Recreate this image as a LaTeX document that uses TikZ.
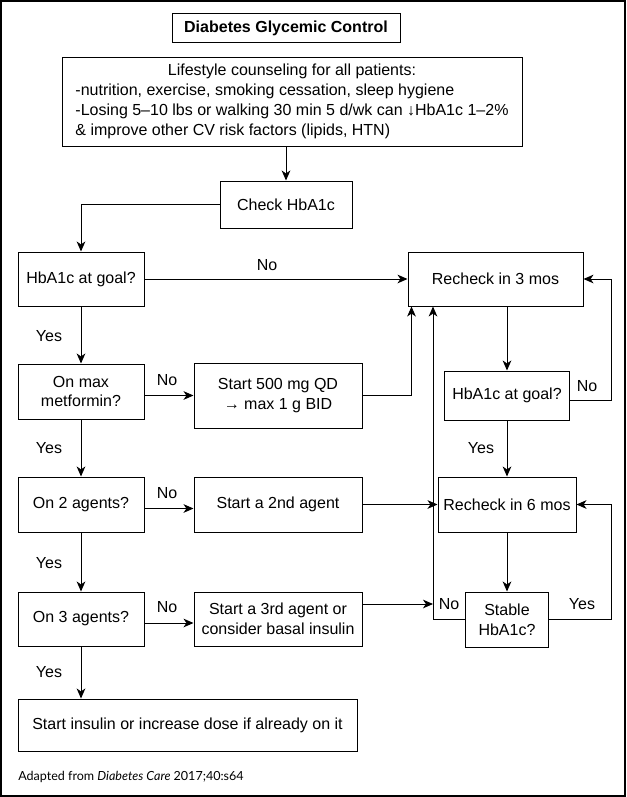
\documentclass[tikz,border=0pt]{standalone}
\usepackage{fontspec}
\setmainfont{Liberation Sans}
\newfontfamily\notefont{Lato}
\usepackage{tikz}
\usetikzlibrary{calc,arrows.meta,positioning}
\newcommand{\pxu}{0.75pt}

\begin{document}
\begin{tikzpicture}[x=0.75pt, y=-0.75pt,
    every node/.style={font=\fontsize{12}{14.8}\selectfont},
    box/.style={draw, line width=0.75pt, inner sep=2pt, align=center},
    lbl/.style={inner sep=0pt},
    arr/.style={line width=0.75pt, -{Stealth[length=7.5pt,width=6.5pt,inset=2.2pt]}}]
  \useasboundingbox (0,0) rectangle (626,797);
  \draw[line width=1pt] (1,1) rectangle (625,796);

  % top of the chart
  \node[box, font=\bfseries\fontsize{12}{14}\selectfont, minimum width=228*\pxu, minimum height=29*\pxu] (title) at (286,28) {Diabetes Glycemic Control};
  \node[box, minimum width=460*\pxu, minimum height=89*\pxu] (life) at (292,101.5) {%
    \begin{tabular}{@{}l@{}}
      \multicolumn{1}{@{}c@{}}{Lifestyle counseling for all patients:}\\
      -nutrition, exercise, smoking cessation, sleep hygiene\\
      -Losing 5–10 lbs or walking 30 min 5 d/wk can ↓HbA1c 1–2\%\\
      \& improve other CV risk factors (lipids, HTN)
    \end{tabular}};
  \node[box, minimum width=132*\pxu, minimum height=47*\pxu] (check) at (286,204.5) {Check HbA1c};

  % left column
  \node[box, minimum width=126*\pxu, minimum height=54*\pxu] (goal1) at (81,279) {HbA1c at goal?};
  \node[box, minimum width=126*\pxu, minimum height=55*\pxu] (maxmet) at (81,391.5) {On max\\metformin?};
  \node[box, minimum width=126*\pxu, minimum height=55*\pxu] (two) at (81,504.5) {On 2 agents?};
  \node[box, minimum width=126*\pxu, minimum height=54*\pxu] (three) at (81,619) {On 3 agents?};
  \node[box, minimum width=339*\pxu, minimum height=52*\pxu] (insulin) at (187.5,725) {Start insulin or increase dose if already on it};

  % middle column
  \node[box, minimum width=168*\pxu, minimum height=65*\pxu] (start500) at (278,395.5) {Start 500 mg QD\\→ max 1 g BID};
  \node[box, minimum width=168*\pxu, minimum height=55*\pxu] (start2) at (278,504.5) {Start a 2nd agent};
  \node[box, minimum width=168*\pxu, minimum height=54*\pxu] (start3) at (278,619) {Start a 3rd agent or\\consider basal insulin};

  % right column
  \node[box, minimum width=175*\pxu, minimum height=54*\pxu] (re3) at (495.5,279) {Recheck in 3 mos};
  \node[box, minimum width=125*\pxu, minimum height=49*\pxu] (goal2) at (507,395.5) {HbA1c at goal?};
  \node[box, minimum width=138*\pxu, minimum height=55*\pxu] (re6) at (507,504.5) {Recheck in 6 mos};
  \node[box, minimum width=83*\pxu, minimum height=55*\pxu] (stable) at (507,619.5) {Stable\\HbA1c?};
  \coordinate (bus) at (433,604);

  % answers
  \node[lbl] (no1) at (267,265) {No};
  \node[lbl] (yes1) at (49,336) {Yes};
  \node[lbl] (no2) at (167,380) {No};
  \node[lbl] (yes2) at (49,448) {Yes};
  \node[lbl] (no3) at (167,493) {No};
  \node[lbl] (yes3) at (49,563) {Yes};
  \node[lbl] (no4) at (167,607) {No};
  \node[lbl] (yes4) at (49,672) {Yes};
  \node[lbl] (no5) at (587,386) {No};
  \node[lbl] (yes5) at (481,448) {Yes};
  \node[lbl] (no6) at (449,604) {No};
  \node[lbl] (yes6) at (582,604) {Yes};

  \draw[arr] (life.south -| check) -- (check);
  \draw[arr] (check.west) -| (goal1.north);
  \draw[arr] (goal1) -- (re3);
  \draw[arr] (goal1) -- (maxmet);
  \draw[arr] (maxmet) -- (two);
  \draw[arr] (two) -- (three);
  \draw[arr] (three) -- (three |- insulin.north);
  \draw[arr] (maxmet.east |- start500) -- (start500.west);
  \draw[arr] ([yshift=-3pt]two.east) -- ([yshift=-3pt]start2.west);
  \draw[arr] ([yshift=-3pt]three.east) -- ([yshift=-3pt]start3.west);
  \draw[arr] (start500.east) -| ($(re3.south west)+(4,0)$);
  \draw[arr] (start2) -- (re6);
  \draw[arr] (start3.east |- bus) -- (bus);
  \draw[arr] (re3.south -| goal2) -- (goal2.north);
  \draw[arr] ([yshift=-4pt]goal2.east) -- ++(41,0) |- (re3.east);
  \draw[arr] (goal2) -- (re6);
  \draw[arr] (re6) -- (stable);
  \draw[arr] (stable.west) -| (re3.south -| bus);
  \draw[arr] (stable.east) -- ++(62,0) |- (re6.east);

  \node[anchor=base west, inner sep=0pt, font=\notefont\fontsize{9.4}{11}\selectfont] (src) at (18,780) {Adapted from \textit{Diabetes Care} 2017;40:s64};
\end{tikzpicture}
\end{document}
